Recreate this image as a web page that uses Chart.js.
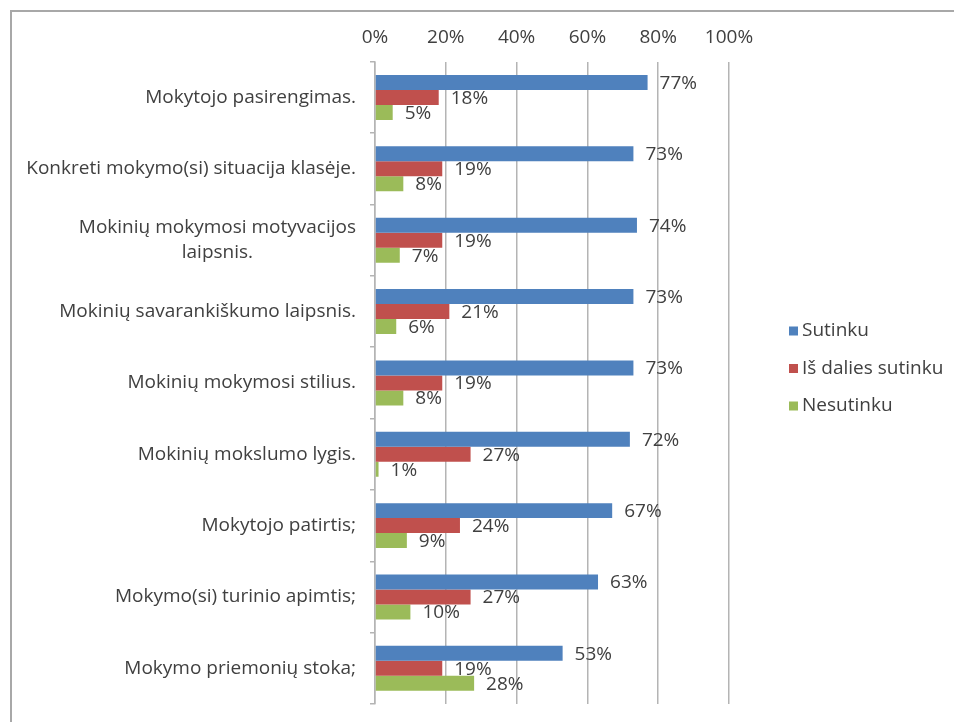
<!DOCTYPE html>
<html>
<head>
<meta charset="utf-8">
<script src="https://cdn.jsdelivr.net/npm/chart.js@4.4.0/dist/chart.umd.min.js"></script>
<style>
  html, body { margin: 0; padding: 0; background: #fff; }
  #wrap { width: 954px; height: 722px; position: relative; }
</style>
</head>
<body>
<div id="wrap"><canvas id="chart"></canvas></div>
<script>
// chart data
const categories = [
    'Mokytojo pasirengimas.',
    'Konkreti mokymo(si) situacija klasėje.',
    ['Mokinių mokymosi motyvacijos', 'laipsnis.'],
    'Mokinių savarankiškumo laipsnis.',
    'Mokinių mokymosi stilius.',
    'Mokinių mokslumo lygis.',
    'Mokytojo patirtis;',
    'Mokymo(si) turinio apimtis;',
    'Mokymo priemonių stoka;'
];
const seriesNames = ['Sutinku', 'Iš dalies sutinku', 'Nesutinku'];
const sutinku = [77, 73, 74, 73, 73, 72, 67, 63, 53];
const isDaliesSutinku = [18, 19, 19, 21, 19, 27, 24, 27, 19];
const nesutinku = [5, 8, 7, 6, 8, 1, 9, 10, 28];
const xTicks = [0, 20, 40, 60, 80, 100];

const FONT = '"Open Sans", sans-serif';
const FSIZE = 19;
const TEXT = '#404040';
const GRID = '#b4b4b4';

// frame lines (top + left) like the pasted slide
const framePlugin = {
    id: 'frame',
    beforeDraw(chart) {
        const ctx = chart.ctx;
        ctx.save();
        ctx.strokeStyle = '#a8a8a8';
        ctx.lineWidth = 2;
        ctx.beginPath();
        ctx.moveTo(11, chart.height);
        ctx.lineTo(11, 11);
        ctx.lineTo(chart.width, 11);
        ctx.stroke();
        ctx.restore();
    }
};

// category labels: right block, lines centred on each other
const yLabelPlugin = {
    id: 'yLabels',
    afterDraw(chart) {
        const ctx = chart.ctx;
        const yScale = chart.scales.y;
        const right = 356;
        const lineH = 25;
        ctx.save();
        ctx.font = FSIZE + 'px ' + FONT;
        ctx.fillStyle = TEXT;
        ctx.textBaseline = 'middle';
        ctx.textAlign = 'center';
        chart.data.labels.forEach((lab, i) => {
            const lines = Array.isArray(lab) ? lab : [lab];
            const w = Math.max(...lines.map(l => ctx.measureText(l).width));
            const cx = right - w / 2;
            const yc = yScale.getPixelForTick(i);
            lines.forEach((l, j) => {
                ctx.fillText(l, cx, yc + (j - (lines.length - 1) / 2) * lineH);
            });
        });
        ctx.restore();
    }
};

// value labels at the end of each bar
const valueLabelPlugin = {
    id: 'valueLabels',
    afterDatasetsDraw(chart) {
        const ctx = chart.ctx;
        ctx.save();
        ctx.font = FSIZE + 'px ' + FONT;
        ctx.fillStyle = TEXT;
        ctx.textBaseline = 'middle';
        ctx.textAlign = 'left';
        chart.data.datasets.forEach((ds, di) => {
            chart.getDatasetMeta(di).data.forEach((bar, i) => {
                ctx.fillText(ds.data[i] + '%', bar.x + 12, bar.y + 1);
            });
        });
        ctx.restore();
    }
};

// legend on the right
const legendPlugin = {
    id: 'sideLegend',
    afterDraw(chart) {
        const ctx = chart.ctx;
        const x = 789, y0 = 331, step = 37.5, box = 9;
        ctx.save();
        ctx.font = FSIZE + 'px ' + FONT;
        ctx.textBaseline = 'middle';
        ctx.textAlign = 'left';
        chart.data.datasets.forEach((ds, i) => {
            const y = y0 + i * step;
            ctx.fillStyle = ds.backgroundColor;
            ctx.fillRect(x, y - box / 2, box, box);
            ctx.fillStyle = TEXT;
            ctx.fillText(ds.label, x + 13, y);
        });
        ctx.restore();
    }
};

const ctx = document.getElementById('chart').getContext('2d');
new Chart(ctx, {
    type: 'bar',
    data: {
        labels: categories,
        datasets: [
            { label: seriesNames[0], data: sutinku, backgroundColor: '#4f81bd' },
            { label: seriesNames[1], data: isDaliesSutinku, backgroundColor: '#c0504d' },
            { label: seriesNames[2], data: nesutinku, backgroundColor: '#9bbb59' }
        ]
    },
    options: {
        indexAxis: 'y',
        responsive: true,
        maintainAspectRatio: false,
        animation: false,
        layout: { padding: { left: 370, right: 225, top: 13, bottom: 18 } },
        datasets: {
            bar: { categoryPercentage: 0.63, barPercentage: 1.0 }
        },
        scales: {
            x: {
                position: 'top',
                min: 0,
                max: 100,
                afterBuildTicks: axis => { axis.ticks = xTicks.map(v => ({ value: v })); },
                ticks: {
                    callback: v => v + '%',
                    color: TEXT,
                    font: { family: FONT, size: FSIZE },
                    padding: 13,
                    maxRotation: 0
                },
                grid: { color: GRID, lineWidth: 1.5, drawTicks: false },
                border: { display: false }
            },
            y: {
                ticks: { display: false },
                grid: { drawOnChartArea: false, drawTicks: true, tickLength: 5, color: GRID, lineWidth: 1.5, offset: true },
                border: { display: true, color: GRID, width: 1.5 }
            }
        },
        plugins: {
            legend: { display: false },
            tooltip: { enabled: false }
        }
    },
    plugins: [framePlugin, yLabelPlugin, valueLabelPlugin, legendPlugin]
});
</script>
</body>
</html>
